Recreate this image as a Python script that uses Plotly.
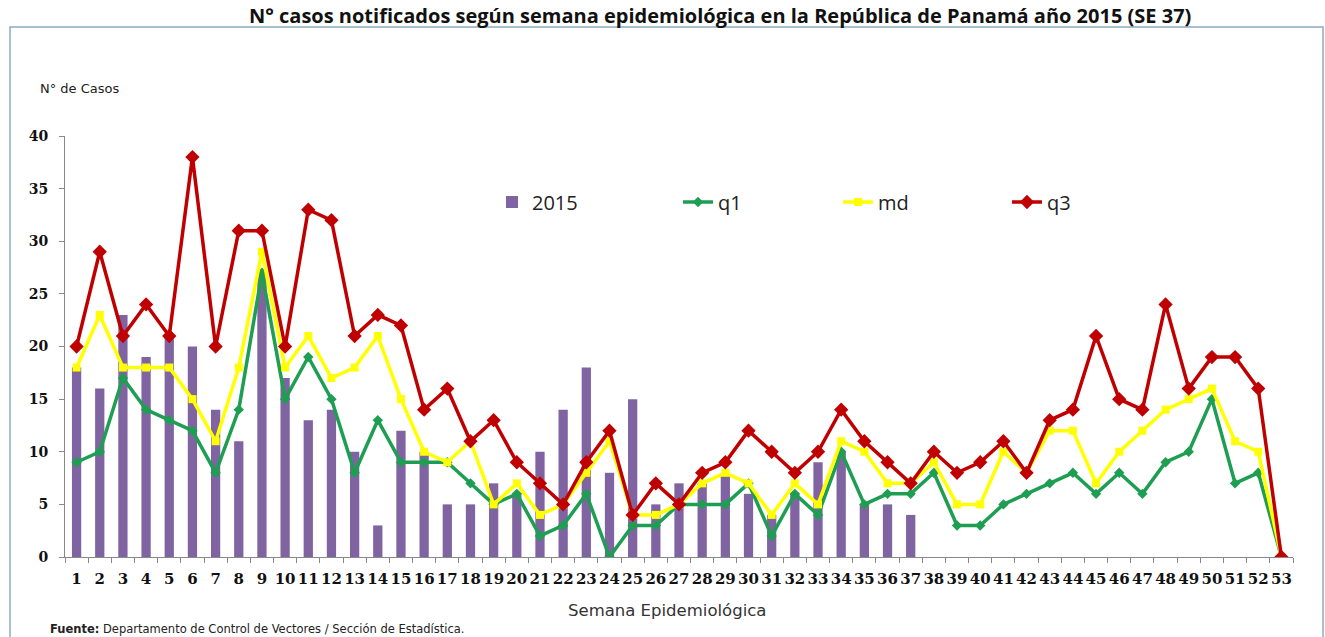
import plotly.graph_objects as go

weeks = [str(i) for i in range(1, 54)]

cases_2015 = [18, 16, 23, 19, 21, 20, 14, 11, 27, 17, 13, 14, 10, 3, 12, 10, 5, 5, 7, 6,
              10, 14, 18, 8, 15, 5, 7, 7, 8, 6, 4, 6, 9, 10, 5, 5, 4]

q1 = [9, 10, 17, 14, 13, 12, 8, 14, 27, 15, 19, 15, 8, 13, 9, 9, 9, 7, 5, 6,
      2, 3, 6, 0, 3, 3, 5, 5, 5, 7, 2, 6, 4, 10, 5, 6, 6, 8, 3, 3,
      5, 6, 7, 8, 6, 8, 6, 9, 10, 15, 7, 8, 0]

md = [18, 23, 18, 18, 18, 15, 11, 18, 29, 18, 21, 17, 18, 21, 15, 10, 9, 11, 5, 7,
      4, 5, 8, 11, 4, 4, 5, 7, 8, 7, 4, 7, 5, 11, 10, 7, 7, 9, 5, 5,
      10, 8, 12, 12, 7, 10, 12, 14, 15, 16, 11, 10, 0]

q3 = [20, 29, 21, 24, 21, 38, 20, 31, 31, 20, 33, 32, 21, 23, 22, 14, 16, 11, 13, 9,
      7, 5, 9, 12, 4, 7, 5, 8, 9, 12, 10, 8, 10, 14, 11, 9, 7, 10, 8, 9,
      11, 8, 13, 14, 21, 15, 14, 24, 16, 19, 19, 16, 0]

y_ticks = [0, 5, 10, 15, 20, 25, 30, 35, 40]

PURPLE = "#8064A2"
GREEN = "#1E9E52"
YELLOW = "#FFFF00"
RED = "#C00000"

# pixel helpers (plot area: l=65, t=136, w=1228, h=421)
L, T, W, H = 65, 136, 1228, 421
def px(x):
    return (x - L) / W
def py(y):
    return (T + H - y) / H

fig = go.Figure()
fig.add_trace(go.Bar(x=weeks[:len(cases_2015)], y=cases_2015, name="2015", showlegend=True,
                     marker=dict(color=PURPLE, line=dict(width=0)), legend="legend"))
fig.add_trace(go.Scatter(x=weeks, y=q1, name="q1", mode="lines+markers", showlegend=True,
                         line=dict(color=GREEN, width=3.5),
                         marker=dict(symbol="diamond", size=8, color=GREEN), legend="legend2"))
fig.add_trace(go.Scatter(x=weeks, y=md, name="md", mode="lines+markers", showlegend=True,
                         line=dict(color=YELLOW, width=3.5),
                         marker=dict(symbol="square", size=8, color=YELLOW), legend="legend3"))
fig.add_trace(go.Scatter(x=weeks, y=q3, name="q3", mode="lines+markers", showlegend=True,
                         line=dict(color=RED, width=3.5),
                         marker=dict(symbol="diamond", size=11, color=RED), legend="legend4"))

leg_font = dict(family="Open Sans", size=20, color="#222")
def leg(xpix):
    return dict(orientation="h", x=px(xpix), y=py(202), xanchor="left", yanchor="middle",
                font=leg_font, bgcolor="rgba(0,0,0,0)", visible=True)

fig.update_layout(
    width=1325, height=637,
    margin=dict(l=L, r=1325 - L - W, t=T, b=637 - T - H, autoexpand=False),
    plot_bgcolor="white", paper_bgcolor="white",
    showlegend=True,
    bargap=0.6,
    legend=leg(492), legend2=leg(678), legend3=leg(838), legend4=leg(1007),
    xaxis=dict(type="category", tickson="boundaries", ticks="outside", ticklen=5,
               tickcolor="#888", showline=True, linecolor="#888", linewidth=1,
               showgrid=False, range=[-0.5, 52.5], tickangle=0, automargin=False,
               tickfont=dict(family="DejaVu Serif", size=15, color="#111", weight="bold"),
               ticklabelstandoff=8),
    yaxis=dict(range=[0, 40], tickvals=y_ticks, ticks="outside", ticklen=5,
               tickcolor="#888", showline=True, linecolor="#888", linewidth=1,
               showgrid=False, zeroline=False, automargin=False,
               tickfont=dict(family="DejaVu Serif", size=14, color="#111", weight="bold"),
               ticklabelstandoff=8),
)

fig.add_shape(type="rect", xref="paper", yref="paper",
              x0=px(10), x1=px(1323), y0=py(660), y1=py(27),
              line=dict(color="#8FAABF", width=1.5), fillcolor="rgba(0,0,0,0)", layer="below")

fig.add_annotation(text="<b>N° casos notificados según semana epidemiológica en la República de Panamá año 2015 (SE 37)</b>",
                   xref="paper", yref="paper", x=px(720), y=py(0), xanchor="center", yanchor="top",
                   showarrow=False, font=dict(family="Open Sans", size=20, color="#111"))
fig.add_annotation(text="N° de Casos", xref="paper", yref="paper", x=px(38), y=py(88),
                   xanchor="left", yanchor="middle", showarrow=False,
                   font=dict(family="DejaVu Sans", size=13, color="#222"))
fig.add_annotation(text="Semana Epidemiológica", xref="paper", yref="paper", x=px(667), y=py(610),
                   xanchor="center", yanchor="middle", showarrow=False,
                   font=dict(family="DejaVu Sans", size=16.5, color="#333"))
fig.add_annotation(text="<b>Fuente:</b> Departamento de Control de Vectores / Sección de Estadística.",
                   xref="paper", yref="paper", x=px(48), y=py(629),
                   xanchor="left", yanchor="middle", showarrow=False,
                   font=dict(family="DejaVu Sans", size=11.5, color="#222"))

fig.write_html("out.html", config={"displayModeBar": False},
               post_script="document.body.style.margin='0';document.body.style.overflow='hidden';")
